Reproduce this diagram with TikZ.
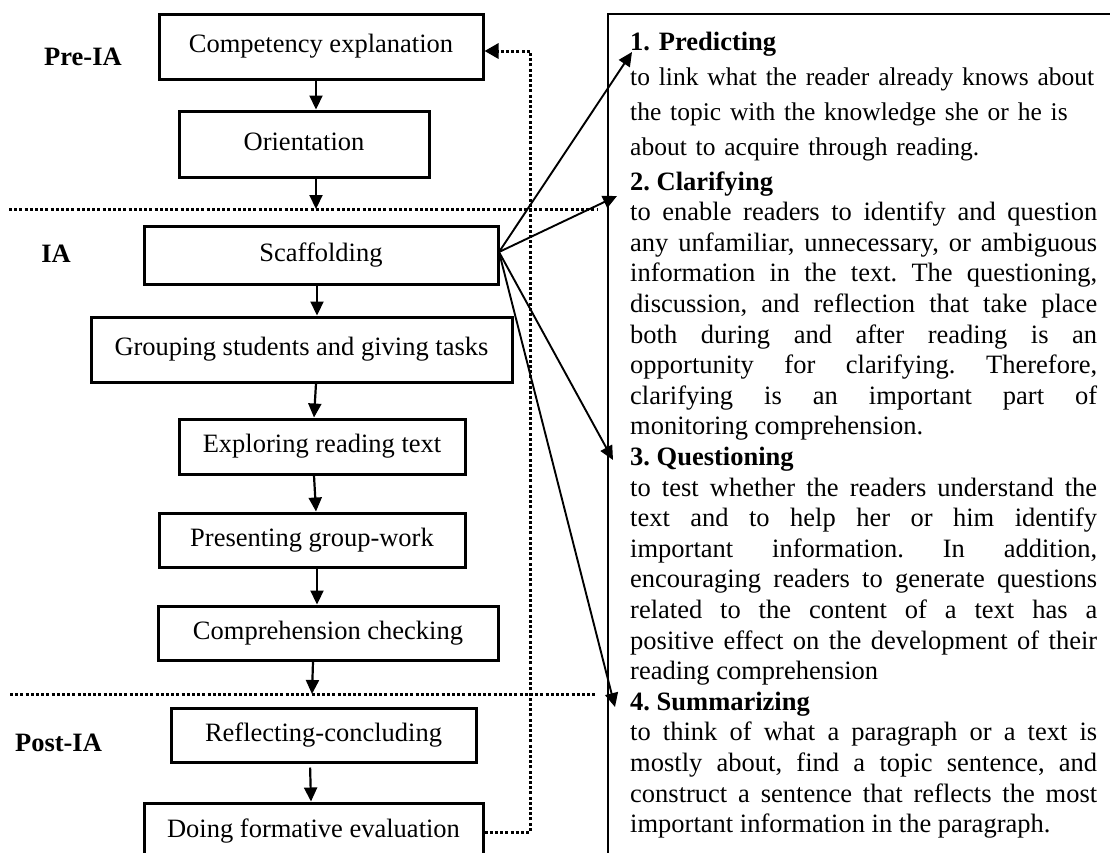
\documentclass[tikz,border=0pt]{standalone}
\usepackage{fontspec}
\setmainfont{Liberation Serif}
\usetikzlibrary{arrows.meta}
\begin{document}
\begin{tikzpicture}[x=1pt,y=-1pt,
  every node/.style={font=\fontsize{26.5pt}{30.6pt}\selectfont\frenchspacing, inner sep=0pt},
  box/.style={draw, line width=3pt, text height=18pt, text depth=6pt, align=center},
  lab/.style={font=\fontsize{26.5pt}{30.6pt}\selectfont\bfseries},
  arr/.style={line width=2.2pt, -{Triangle[length=14pt,width=13pt]}},
  dotl/.style={line width=3pt, dash pattern=on 3pt off 2.2pt},
  rbox/.style={line width=2pt},
  para/.style={anchor=base west, text width=467pt}
]
\path[use as bounding box] (0,0) rectangle (1110,852);
\fill[white] (0,0) rectangle (1110,852);
\clip (0,0) rectangle (1110,852);

% left column boxes
\node[box, minimum width=324pt, minimum height=65pt] (comp) at (321,46.5) {Competency explanation};
\node[box, minimum width=250pt, minimum height=66pt] (orient) at (304,144) {Orientation};
\node[box, minimum width=354pt, minimum height=58pt] (scaff) at (321,255) {Scaffolding};
\node[box, minimum width=421pt, minimum height=65pt] (group) at (301.5,349.5) {Grouping students and giving tasks};
\node[box, minimum width=286pt, minimum height=55pt] (explore) at (322,446.5) {Exploring reading text};
\node[box, minimum width=306pt, minimum height=54pt] (present) at (312,540) {Presenting group-work};
\node[box, minimum width=340pt, minimum height=54pt] (compr) at (328,633) {Comprehension checking};
\node[box, minimum width=305pt, minimum height=54pt] (reflect) at (323.5,735) {Reflecting-concluding};
\node[box, minimum width=339pt, minimum height=57pt] (doing) at (313.5,831.5) {Doing formative evaluation};

% phase labels
\node[lab] (pre) at (83,57) {Pre-IA};
\node[lab] (ia) at (56,254) {IA};
\node[lab] (post) at (58.5,743) {Post-IA};

% dotted separators
\coordinate (d1a) at (9,209); \coordinate (d1b) at (597,209);
\coordinate (d2a) at (10,694); \coordinate (d2b) at (597,694);
\draw[dotl] (d1a) -- (d1b);
\draw[dotl] (d2a) -- (d2b);

% feedback loop
\coordinate (fb1) at (530,832); \coordinate (fb2) at (530,51);
\draw[dotl, -{Triangle[length=14pt,width=15pt]}] (doing.east |- fb1) -- (fb1) -- (fb2) -- (comp.east |- fb2);

% vertical flow arrows
\coordinate (m1) at (316,209);
\coordinate (m2) at (312,694);
\draw[arr] (comp.south -| 316,0) -- (orient.north -| 316,0);
\draw[arr] (orient.south -| 316,0) -- (m1);
\draw[arr] (scaff.south -| 317,0) -- (group.north -| 317,0);
\draw[arr] (group.south -| 316,0) -- (explore.north -| 314,0);
\draw[arr] (explore.south -| 314,0) -- (present.north -| 316,0);
\draw[arr] (present.south -| 317,0) -- (compr.north -| 317,0);
\draw[arr] (compr.south -| 313,0) -- (m2);
\draw[arr, shorten <=4pt] (reflect.south -| 310,0) -- (doing.north -| 311,0);

% right panel frame
\coordinate (rb1) at (608,870); \coordinate (rb2) at (608,14); \coordinate (rb3) at (1130,14);
\draw[rbox] (rb1) -- (rb2) -- (rb3);

% arrows from scaffolding to strategies
\coordinate (src) at (499,252);
\coordinate (t1) at (632,52);
\coordinate (t2) at (617,196);
\coordinate (t3) at (613,460);
\coordinate (t4) at (615,707);
\draw[arr, line width=1.9pt] (src) -- (t1);
\draw[arr, line width=1.9pt] (src) -- (t2);
\draw[arr, line width=1.9pt] (src) -- (t3);
\draw[arr, line width=1.9pt] (src) -- (t4);

% strategy texts
\node[para, text width=478pt, align=left, font=\fontsize{26.5pt}{35pt}\selectfont\frenchspacing] (s1) at (630,50)
 {\textbf{1. Predicting}\\{\fontsize{25.5pt}{35pt}\selectfont to link what the reader already knows about\\the topic with the knowledge she or he is\\about to acquire through reading.}};

\node[para, align=justify] (s2) at (630,190)
 {\tolerance=10000 \hyphenpenalty=10000 \parindent=0pt
 \textbf{2. Clarifying}\par
 to enable readers to identify and question\linebreak
 any unfamiliar, unnecessary, or ambiguous\linebreak
 information in the text. The questioning,\linebreak
 discussion, and reflection that take place\linebreak
 both during and after reading is an\linebreak
 opportunity for clarifying. Therefore,\linebreak
 clarifying is an important part of\linebreak
 monitoring comprehension.\par
 \textbf{3. Questioning}\par
 to test whether the readers understand the\linebreak
 text and to help her or him identify\linebreak
 important information. In addition,\linebreak
 encouraging readers to generate questions\linebreak
 related to the content of a text has a\linebreak
 positive effect on the development of their\linebreak
 reading comprehension\par
 \textbf{4. Summarizing}\par
 to think of what a paragraph or a text is\linebreak
 mostly about, find a topic sentence, and\linebreak
 construct a sentence that reflects the most\linebreak
 important information in the paragraph.\par};
\end{tikzpicture}
\end{document}
